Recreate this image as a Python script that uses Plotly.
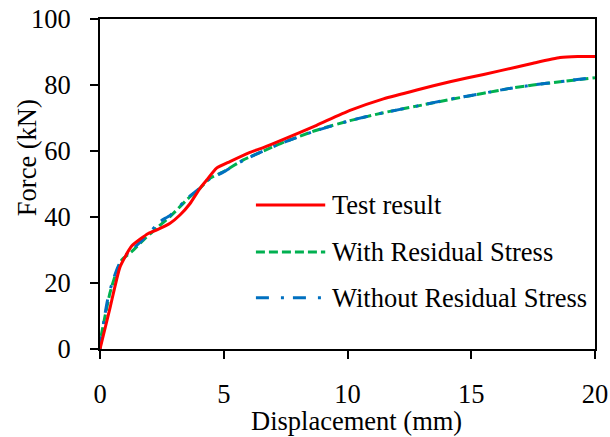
import plotly.graph_objects as go

# ---- data ----
test_x = [0, 0.4, 0.81, 1.28, 1.95, 2.3, 2.83, 3.23, 3.64, 4.04, 4.31, 4.71, 5.25, 6.06, 6.6, 7.41, 8.75,
          10.1, 11.45, 12.8, 14.14, 15.5, 16.8, 17.5, 18.59, 19.3, 20]
test_y = [0, 12.3, 24.9, 31.2, 35, 36.1, 38.1, 40.6, 44.1, 48.7, 51.2, 54.8, 56.8, 59.6, 61, 63.5, 67.8,
          72.3, 75.8, 78.5, 81, 83.2, 85.4, 86.6, 88.3, 88.6, 88.6]

with_x = [0, 0.05, 0.2, 0.4, 0.6, 0.88, 1.28, 1.82, 2.36, 2.83, 3.64, 4.04, 4.44, 4.98, 5.79, 6.6, 7.41,
          8.75, 10.1, 11.45, 12.8, 14.14, 15.5, 16.5, 17.5, 18.59, 20]
with_y = [0, 4, 9.8, 16.9, 21.9, 27, 29.5, 33.5, 37.1, 40.1, 46.2, 48.7, 51.7, 53.7, 57.3, 60, 62.6,
          66.3, 69.2, 71.6, 73.6, 75.6, 77.5, 78.9, 80, 81, 82.2]

without_x = [0, 0.05, 0.2, 0.35, 0.65, 0.9, 1.28, 1.82, 2.42, 2.83, 3.64, 4.04, 4.44, 4.98, 5.79, 6.6, 7.41,
             8.75, 10.1, 11.45, 12.8, 14.14, 15.5, 16.5, 17.5, 18.59, 20]
without_y = [0, 3, 10.5, 16.5, 23.5, 27.5, 30, 33.8, 38.6, 40.5, 46.4, 48.8, 51.6, 53.6, 57.2, 60, 62.6,
             66.2, 69.2, 71.6, 73.6, 75.7, 77.5, 78.9, 80, 81, 82.3]

series_names = ["Test result", "With Residual Stress", "Without Residual Stress"]
x_ticks = [0, 5, 10, 15, 20]
y_ticks = [0, 20, 40, 60, 80, 100]
x_title = "Displacement (mm)"
y_title = "Force (kN)"

FONT = "Liberation Serif"
FS = 26.5
styles = [
    dict(color="#FF0000", width=3, dash="solid"),
    dict(color="#00B050", width=3, dash="9px,4px"),
    dict(color="#0070C0", width=3, dash="13px,12px,3px,9px"),
]

fig = go.Figure()
fig.add_trace(go.Scatter(x=with_x, y=with_y, mode="lines", name=series_names[1],
                         line=dict(**styles[1], shape="spline", smoothing=0.5)))
fig.add_trace(go.Scatter(x=without_x, y=without_y, mode="lines", name=series_names[2],
                         line=dict(**styles[2], shape="spline", smoothing=0.5)))
fig.add_trace(go.Scatter(x=test_x, y=test_y, mode="lines", name=series_names[0],
                         line=dict(**styles[0], shape="spline", smoothing=0.5)))

# custom legend (long sample lines as in the reference)
leg_y = [0.436, 0.294, 0.155]
for name, st, yy in zip(series_names, styles, leg_y):
    fig.add_shape(type="line", xref="paper", yref="paper", x0=0.315, x1=0.455, y0=yy, y1=yy,
                  line=dict(color=st["color"], width=st["width"], dash=st["dash"]))
    fig.add_annotation(xref="paper", yref="paper", x=0.465, y=yy, text=name, showarrow=False,
                       xanchor="left", yanchor="middle",
                       font=dict(family=FONT, size=FS, color="black"))

# axis titles placed as in the reference
fig.add_annotation(xref="paper", yref="paper", x=0.519, y=-0.218, text=x_title, showarrow=False,
                   xanchor="center", yanchor="middle", font=dict(family=FONT, size=FS, color="black"))
fig.add_annotation(xref="paper", yref="paper", x=-0.147, y=0.579, text=y_title, showarrow=False,
                   textangle=-90, xanchor="center", yanchor="middle",
                   font=dict(family=FONT, size=FS, color="black"))

axis_common = dict(showline=True, linecolor="black", linewidth=2, mirror=True,
                   ticks="outside", ticklen=8, tickwidth=1.5, tickcolor="black",
                   showgrid=False, zeroline=False, automargin=False,
                   tickfont=dict(family=FONT, size=FS, color="black"))

fig.update_xaxes(range=[0, 20], tickvals=x_ticks, ticklabelstandoff=12, **axis_common)
fig.update_yaxes(range=[0, 100], tickvals=y_ticks, ticklabelstandoff=14, **axis_common)

fig.update_layout(width=610, height=437, margin=dict(l=100, r=15, t=19, b=88),
                  plot_bgcolor="white", paper_bgcolor="white", showlegend=False)

fig.write_html("out.html")
